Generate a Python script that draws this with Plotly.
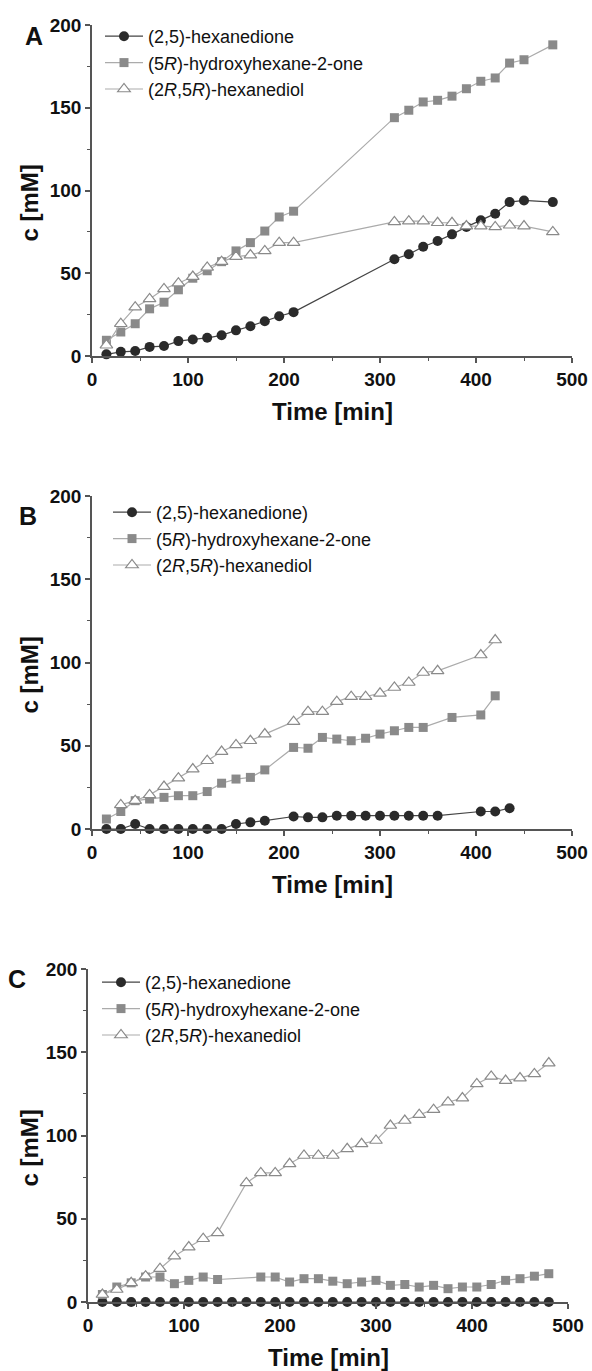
import plotly.graph_objects as go

# ---------------- data ----------------
# Panel A
tA = [15, 30, 45, 60, 75, 90, 105, 120, 135, 150, 165, 180, 195, 210,
      315, 330, 345, 360, 375, 390, 405, 420, 435, 450, 480]
A_dione = [1, 2.5, 3, 5.5, 6, 9, 10, 11, 12.5, 15.5, 18, 21, 24, 26.5,
           58.5, 61.5, 66, 69.5, 73.5, 78, 82, 86, 93, 94, 93]
A_hydroxy = [9.5, 14.5, 19.5, 28.5, 32.5, 40, 47, 51.5, 57, 63.5, 68.5, 75.5, 84, 87.5,
             144, 148.5, 153.5, 154.5, 157, 161.5, 166, 168, 177, 179, 188]
A_diol = [6.5, 19.5, 29.5, 34.5, 40.5, 44, 48, 53.5, 57, 60, 61, 63.5, 68.5, 68.5,
          81, 81.5, 81.5, 80.5, 80.5, 78.5, 78.5, 78, 79, 78.5, 75]

# Panel B
tB_dione = [15, 30, 45, 60, 75, 90, 105, 120, 135, 150, 165, 180, 210, 225, 240, 255,
            270, 285, 300, 315, 330, 345, 360, 405, 420, 435]
B_dione = [0, 0, 3, 0, 0, 0, 0, 0, 0, 3, 4, 5, 7.5, 7, 7, 8,
           8, 8, 8, 8, 8, 8, 8, 10.5, 10.5, 12.5]
tB_hydroxy = [15, 30, 45, 60, 75, 90, 105, 120, 135, 150, 165, 180, 210, 225, 240, 255,
              270, 285, 300, 315, 330, 345, 375, 405, 420]
B_hydroxy = [6, 10.5, 17, 18, 19, 20, 20, 22.5, 27.5, 30, 31, 35.5, 49, 48.5, 55, 54,
             53, 54.5, 57, 59, 61, 61, 67, 68.5, 80]
tB_diol = [30, 45, 60, 75, 90, 105, 120, 135, 150, 165, 180, 210, 225, 240, 255,
           270, 285, 300, 315, 330, 345, 360, 405, 420]
B_diol = [14.5, 17, 20.5, 25.5, 30.5, 36, 41, 46.5, 50.5, 53, 57, 64.5, 70.5, 70.5, 76.5,
          79.5, 79.5, 81.5, 85, 88, 94, 95, 104.5, 113.5]

# Panel C
tC_dione = [15, 30, 45, 60, 75, 90, 105, 120, 135, 150, 165, 180, 195, 210, 225, 240,
            255, 270, 285, 300, 315, 330, 345, 360, 375, 390, 405, 420, 435, 450, 465, 480]
C_dione = [0, 0, 0, 0, 0, 0, 0, 0, 0, 0, 0, 0, 0, 0, 0, 0,
           0, 0, 0, 0, 0, 0, 0, 0, 0, 0, 0, 0, 0, 0, 0, 0]
tC_hydroxy = [15, 30, 45, 60, 75, 90, 105, 120, 135, 180, 195, 210, 225, 240, 255,
              270, 285, 300, 315, 330, 345, 360, 375, 390, 405, 420, 435, 450, 465, 480]
C_hydroxy = [4.5, 9, 11.5, 15, 15, 11, 13, 15, 13.5, 15, 15, 12, 14, 14, 12.5,
             11, 12, 13, 10, 10.5, 9, 10, 8, 9, 9, 10.5, 13, 14, 15.5, 17]
tC_diol = [15, 30, 45, 60, 75, 90, 105, 120, 135, 165, 180, 195, 210, 225, 240, 255,
           270, 285, 300, 315, 330, 345, 360, 375, 390, 405, 420, 435, 450, 465, 480]
C_diol = [4.5, 7.5, 11.5, 15.5, 20, 27.5, 33, 38, 41.5, 71.5, 77.5, 77.5, 83, 88, 88, 88,
          92, 95, 97, 106, 109, 112.5, 115.5, 120, 122.5, 131, 135.5, 133, 134.5, 137, 143.5]

names_A = ["(2,5)-hexanedione", "(5<i>R</i>)-hydroxyhexane-2-one", "(2<i>R</i>,5<i>R</i>)-hexanediol"]
names_B = ["(2,5)-hexanedione)", "(5<i>R</i>)-hydroxyhexane-2-one", "(2<i>R</i>,5<i>R</i>)-hexanediol"]
names_C = names_A
panel_letters = ["A", "B", "C"]

x_ticks = [0, 100, 200, 300, 400, 500]
y_ticks = [0, 50, 100, 150, 200]

# ---------------- layout geometry (pixels) ----------------
W, H = 592, 1371
panels = [
    dict(x0=92, x1=572, ytop=25, ybot=356, letter=(34, 36), leg=(100, 18)),
    dict(x0=92, x1=572, ytop=496, ybot=829, letter=(28, 516), leg=(108, 494)),
    dict(x0=88, x1=568, ytop=969, ybot=1302, letter=(17, 979), leg=(97, 964)),
]

FONT = "Liberation Sans, Arial, Helvetica, sans-serif"
circle_style = dict(symbol="circle", size=10, color="#2a2a2a", line=dict(width=0))
square_style = dict(symbol="square", size=9, color="#8a8a8a", line=dict(width=0))
tri_style = dict(symbol="triangle-up", size=11, color="white", line=dict(color="#8a8a8a", width=1.2))

fig = go.Figure()

data_sets = [
    (names_A, (tA, A_dione), (tA, A_hydroxy), (tA, A_diol)),
    (names_B, (tB_dione, B_dione), (tB_hydroxy, B_hydroxy), (tB_diol, B_diol)),
    (names_C, (tC_dione, C_dione), (tC_hydroxy, C_hydroxy), (tC_diol, C_diol)),
]

annotations = []
for i, (names, d1, d2, d3) in enumerate(data_sets):
    p = panels[i]
    sfx = "" if i == 0 else str(i + 1)
    xa, ya = "x" + sfx, "y" + sfx
    leg = "legend" + sfx
    styles = [(d1, circle_style, "#444444"), (d2, square_style, "#ababab"), (d3, tri_style, "#ababab")]
    for k, ((tt, vv), mk, lc) in enumerate(styles):
        fig.add_trace(go.Scatter(
            x=tt, y=vv, mode="lines+markers", name=names[k],
            marker=mk, line=dict(color=lc, width=1.2),
            xaxis=xa, yaxis=ya, legend=leg, cliponaxis=False,
        ))
    axis_common = dict(
        showline=True, linecolor="#555555", linewidth=1.6, mirror=False,
        ticks="outside", ticklen=5, tickwidth=1.5, tickcolor="#555555",
        showgrid=False, zeroline=False, automargin=False,
        tickfont=dict(family=FONT, size=19, color="#111111", weight="bold"),
    )
    fig.update_layout({
        "xaxis" + sfx: dict(
            axis_common, domain=[p["x0"] / W, p["x1"] / W], range=[0, 500],
            tickvals=x_ticks, anchor=ya,
            minor=dict(ticks="outside", ticklen=3, dtick=50, tickcolor="#555555", tickwidth=1.2),
        ),
        "yaxis" + sfx: dict(
            axis_common, domain=[1 - p["ybot"] / H, 1 - p["ytop"] / H], range=[0, 200],
            tickvals=y_ticks, anchor=xa,
            minor=dict(ticks="outside", ticklen=3, dtick=25, tickcolor="#555555", tickwidth=1.2),
        ),
        leg: dict(
            x=p["leg"][0] / W, y=1 - p["leg"][1] / H, xanchor="left", yanchor="top",
            bgcolor="rgba(0,0,0,0)", borderwidth=0,
            font=dict(family=FONT, size=18, color="#111111"),
            itemwidth=38, tracegroupgap=0,
        ),
    })
    cx = (p["x0"] + p["x1"]) / 2
    cy = (p["ytop"] + p["ybot"]) / 2 + 13
    annotations.append(dict(
        text="Time [min]", x=cx / W, y=1 - (p["ybot"] + 55) / H, xref="paper", yref="paper",
        showarrow=False, xanchor="center", yanchor="middle",
        font=dict(family=FONT, size=24, color="#111111", weight="bold"),
    ))
    annotations.append(dict(
        text="c [mM]", x=29 / W, y=1 - cy / H, xref="paper", yref="paper", textangle=-90,
        showarrow=False, xanchor="center", yanchor="middle",
        font=dict(family=FONT, size=24, color="#111111", weight="bold"),
    ))
    annotations.append(dict(
        text=panel_letters[i], x=p["letter"][0] / W, y=1 - p["letter"][1] / H,
        xref="paper", yref="paper", showarrow=False, xanchor="center", yanchor="middle",
        font=dict(family=FONT, size=25, color="#111111", weight="bold"),
    ))

fig.update_layout(
    width=W, height=H, margin=dict(l=0, r=0, t=0, b=0),
    paper_bgcolor="white", plot_bgcolor="white",
    annotations=annotations, showlegend=True,
)

fig.write_html("out.html")
